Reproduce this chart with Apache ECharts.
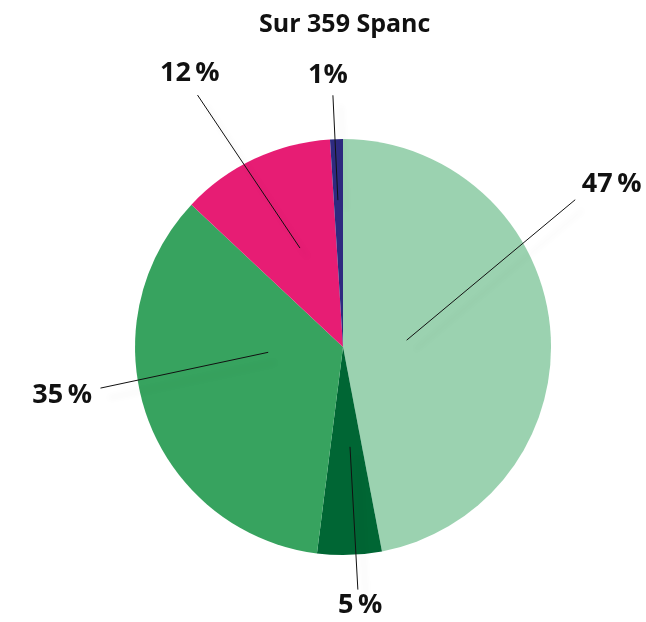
<!DOCTYPE html>
<html>
<head>
<meta charset="utf-8">
<script src="https://cdn.jsdelivr.net/npm/echarts@6/dist/echarts.min.js"></script>
<style>html,body{margin:0;padding:0;background:#fff;}#c{width:646px;height:622px;}</style>
</head>
<body>
<div id="c"></div>
<script>
const categories = ['A', 'B', 'C', 'D', 'E'];
const values = [47, 5, 35, 12, 1];
const labels = ['47\u2009%', '5\u2009%', '35\u2009%', '12\u2009%', '1%'];
const colors = ['#9bd2b0', '#006634', '#37a35f', '#e71d74', '#2e2a80'];
const titleText = 'Sur 359 Spanc';

// label geometry (polar, relative to pie centre): [startR, startAngle, endR, endAngle, labelR, labelAngle], degrees clockwise from top
const labelGeom = [
  [64, 83.8, 275, 57.6, 314, 58.8],
  [100, 176, 243, 176.5, 259, 176.2],
  [75, 266, 246, 260.4, 285, 260.2],
  [108, 336.5, 291, 330, 314, 330.8],
  [147, 358, 252, 357.7, 272, 356.8]
];

const chart = echarts.init(document.getElementById('c'), null, {renderer: 'canvas'});
const W = 646, H = 622;
const cxP = 0.531, cyP = 0.558;
function pt(r, a) {
  const t = a * Math.PI / 180;
  return [W * cxP + r * Math.sin(t), H * cyP - r * Math.cos(t)];
}
const pieData = categories.map((c, i) => ({name: c, value: values[i], itemStyle: {color: colors[i]}}));
const base = {
  type: 'pie',
  center: [(cxP * 100) + '%', (cyP * 100) + '%'],
  radius: [0, 208],
  startAngle: 90,
  clockwise: true,
  emphasis: {disabled: true},
  silent: true
};
chart.setOption({
  backgroundColor: '#fff',
  animation: false,
  title: {
    text: titleText,
    left: 254,
    top: 7,
    textStyle: {fontFamily: 'Open Sans', fontWeight: 'bold', fontSize: 25, color: '#111'}
  },
  series: [
    Object.assign({}, base, {
      data: pieData,
      label: {show: false},
      labelLine: {show: false},
      z: 1
    }),
    Object.assign({}, base, {
      data: categories.map((c, i) => ({name: c, value: values[i], itemStyle: {color: 'rgba(0,0,0,0)'}})),
      z: 5,
      label: {
        show: true,
        position: 'outside',
        overflow: 'none',
        formatter: p => labels[p.dataIndex],
        fontFamily: 'Open Sans',
        fontWeight: 'bold',
        fontSize: 27,
        color: '#111'
      },
      labelLine: {
        show: true,
        lineStyle: {color: '#111', width: 1, shadowColor: 'rgba(0,0,0,0.12)', shadowBlur: 6, shadowOffsetX: 8, shadowOffsetY: 10}
      },
      labelLayout: function (params) {
        const g = labelGeom[params.dataIndex];
        const s = pt(g[0], g[1]);
        const e = pt(g[2], g[3]);
        const l = pt(g[4], g[5]);
        return {
          x: l[0], y: l[1], align: 'center', verticalAlign: 'middle',
          labelLinePoints: [s, e, e]
        };
      }
    })
  ]
});
</script>
</body>
</html>
